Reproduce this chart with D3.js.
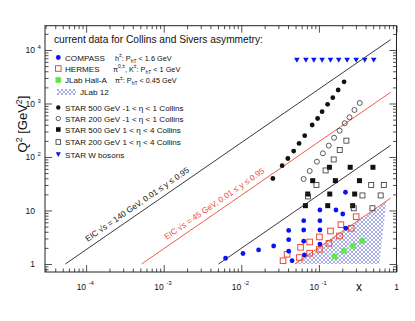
<!DOCTYPE html>
<html><head><meta charset="utf-8">
<script src="https://cdn.jsdelivr.net/npm/d3@7"></script>
<style>body{margin:0;background:#fff} svg{display:block;font-family:"Liberation Sans",Arial,Helvetica,sans-serif}</style>
</head><body><svg id="c" width="415" height="321"></svg>
<script>
// ---------------- data ----------------
const titleText = "current data for Collins and Sivers asymmetry:";
const xMajorTicks = [1e-4, 1e-3, 1e-2, 1e-1, 1];
const xTickExp = ["-4", "-3", "-2", "-1", ""];
const yMajorTicks = [1, 10, 100, 1000, 10000];
const yTickExp = ["", "", "2", "3", "4"];

const compass = [[0.00627,1.28],[0.0105,1.57],[0.0167,1.83],[0.0261,2.17],[0.0408,4.23],[0.0408,2.85],[0.0408,1.73],[0.0451,1.15],
  [0.0637,6.45],[0.0637,4.32],[0.0637,2.66],[0.065,1.47],[0.103,10.2],[0.103,6.45],[0.103,4.32],[0.103,2.35],
  [0.166,10.2],[0.203,8.6],[0.220,21.9],[0.222,4.65]];
const hermes = [[0.302,7.66],[0.192,5.43],[0.141,4.14],[0.1015,3.20],[0.076,2.58],[0.058,2.05],[0.0389,1.52],[0.0345,1.15],
  [0.056,1.32],[0.076,1.59],[0.1015,1.88],[0.1346,2.44],[0.184,3.34],[0.261,4.65]];
const jlabHallA = [[0.160,1.37],[0.210,1.75],[0.275,2.17],[0.361,2.69]];
const jlab12Region = [[0.049,1],[0.74,14.8],[0.60,1]];
const star500Mid = [[0.211,2545],[0.177,1787],[0.151,1283],[0.1295,966],[0.110,703],[0.0962,524],[0.0819,396],
  [0.0656,250],[0.0555,179],[0.0473,129],[0.0398,93.7],[0.0336,68.8],[0.0255,39.6]];
const star200Mid = [[0.336,1022],[0.287,756],[0.248,552],[0.215,427],[0.185,310],[0.157,229],[0.134,163],
  [0.1126,117],[0.0942,81.7],[0.0761,54.7],[0.0636,38.8]];
const star500Fwd = [[0.1366,64.2],[0.253,64.2],[0.497,64.2],[0.0832,36.1],[0.163,36.1],[0.333,36.1],
  [0.0717,20.3],[0.138,20.3],[0.289,20.3],[0.067,12.3],[0.130,12.3],[0.272,12.3]];
const star200Fwd = [[0.155,89.8],[0.1855,135],[0.226,202],[0.122,56],[0.0929,30],[0.472,30],[0.686,30],
  [0.364,19.1],[0.625,19.1],[0.281,11.0],[0.490,11.0],[0.0724,18.3]];
const starW = [[0.052,6464],[0.068,6464],[0.086,6464],[0.110,6464],[0.141,6464],[0.180,6464],[0.231,6464],[0.302,6464],[0.390,6464],[0.509,6464]];

const eic140Upper = [[5.4e-5,1],[0.84,15600]];
const eic140Lower = [[5.1e-3,1],[0.84,165]];
const eic45Upper = [[5.2e-4,1],[0.84,1620]];
const eic45Lower = [[0.049,1],[0.84,17]];
const eic140Label = "EIC \u221As = 140 GeV, 0.01 \u2264 y \u2264 0.95";
const eic45Label = "EIC \u221As = 45 GeV, 0.01 \u2264 y \u2264 0.95";

const legendLabels = ["COMPASS","HERMES","JLab Hall-A","JLab 12","STAR 500 GeV -1 < \u03b7 < 1 Collins",
  "STAR 200 GeV -1 < \u03b7 < 1 Collins","STAR 500 GeV 1 < \u03b7 < 4 Collins","STAR 200 GeV 1 < \u03b7 < 4 Collins","STAR W bosons"];
const legendKinematics = [
  [["h","n"],["\u00b1","sup"],[": P","n"],["hT","sub"],[" < 1.6 GeV","n"]],
  [["\u03c0","n"],["0,\u00b1","sup"],[", K","n"],["\u00b1","sup"],[": P","n"],["hT","sub"],[" < 1 GeV","n"]],
  [["\u03c0","n"],["\u00b1","sup"],[": P","n"],["hT","sub"],[" < 0.45 GeV","n"]]
];

// ---------------- drawing ----------------
const svg = d3.select("#c");
const L = 45, R = 396.5, T = 25.7, B = 272;
const x = d3.scaleLog().domain([Math.pow(10,-4.53), 1]).range([L, R]);
const y = d3.scaleLog().domain([Math.pow(10,-0.15), Math.pow(10,4.454)]).range([B, T]);

const BLUE = "#0a14f0", RED = "#ee4a36", GREEN = "#5ee84a", HATCH = "#8089d8";

const defs = svg.append("defs");
const pat = defs.append("pattern").attr("id","hatch").attr("patternUnits","userSpaceOnUse")
  .attr("width",4).attr("height",4);
pat.append("path").attr("d","M-1,1 L1,-1 M0,4 L4,0 M3,5 L5,3").attr("stroke",HATCH).attr("stroke-width",0.7);
pat.append("path").attr("d","M-1,3 L1,5 M0,0 L4,4 M3,-1 L5,1").attr("stroke",HATCH).attr("stroke-width",0.7);

// minor ticks
function minors(lo, hi) {
  const out = [];
  for (let e = Math.floor(Math.log10(lo)); e <= Math.ceil(Math.log10(hi)); e++)
    for (let m = 2; m <= 9; m++) { const v = m*Math.pow(10,e); if (v >= lo && v <= hi) out.push(v); }
  return out;
}
const xMin = minors(x.domain()[0], 1), yMin = minors(y.domain()[0], y.domain()[1]);
const axG = svg.append("g").attr("stroke-width",0.8);
function addAxis(axis, tr) {
  const g = axG.append("g").attr("transform", tr).call(axis);
  g.select(".domain").remove();
  g.selectAll("text").remove();
  g.selectAll("line").attr("stroke","#222");
}
[[xMajorTicks,7],[xMin,3.5]].forEach(([v,s]) => {
  addAxis(d3.axisBottom(x).tickValues(v).tickSize(-s), `translate(0,${B})`);
  addAxis(d3.axisTop(x).tickValues(v).tickSize(-s), `translate(0,${T})`);
});
[[yMajorTicks,7],[yMin,3.5]].forEach(([v,s]) => {
  addAxis(d3.axisLeft(y).tickValues(v).tickSize(-s), `translate(${L},0)`);
  addAxis(d3.axisRight(y).tickValues(v).tickSize(-s), `translate(${R},0)`);
});
svg.append("rect").attr("x",L).attr("y",T).attr("width",R-L).attr("height",B-T)
  .attr("fill","none").attr("stroke","#222").attr("stroke-width",1);

// tick labels
const tl = svg.append("g").attr("fill","#111").attr("font-size",8.5);
xMajorTicks.forEach((v,i) => {
  if (xTickExp[i] === "") {
    tl.append("text").attr("x",x(v)).attr("y",290).attr("text-anchor","middle").text("1");
  } else {
    tl.append("text").attr("x",x(v)).attr("y",290).attr("text-anchor","end").text("10");
    tl.append("text").attr("x",x(v)+2.5).attr("y",284.5).attr("font-size",6).text(xTickExp[i]);
  }
});
yMajorTicks.forEach((v,i) => {
  const base = v === 1 ? "1" : "10";
  tl.append("text").attr("x",35).attr("y",y(v)+3.5).attr("text-anchor","end").text(base);
  if (yTickExp[i]) tl.append("text").attr("x",37.5).attr("y",y(v)-0.5).attr("font-size",6).text(yTickExp[i]);
});

function rich(g, x0, y0, segs, size, attrs) {
  const t = g.append("text").attr("x",x0).attr("y",y0).attr("font-size",size);
  if (attrs) Object.entries(attrs).forEach(([k,v]) => t.attr(k,v));
  let shift = 0;
  segs.forEach(([s,k]) => {
    const target = k === "sup" ? -size*0.42 : k === "sub" ? size*0.28 : 0;
    const ts = t.append("tspan").attr("dy", target - shift).text(s);
    if (k !== "n") ts.attr("font-size", size*0.68);
    shift = target;
  });
  return t;
}
// axis titles
rich(svg, 0, 0, [["Q","n"],["2","sup"],[" [GeV","n"],["2","sup"],["]","n"]], 13,
  {"text-anchor":"middle","transform":"translate(27,124) rotate(-90)","fill":"#111"});
svg.append("text").attr("x",359).attr("y",291).attr("text-anchor","middle").attr("font-size",12).attr("fill","#111").text("x");

// JLab12 hatched region
const area = d3.line().x(d => x(d[0])).y(d => y(d[1]));
svg.append("path").attr("d", area(jlab12Region) + "Z").attr("fill","url(#hatch)");

// EIC lines
const lines = [[eic140Upper,"#222"],[eic140Lower,"#222"],[eic45Upper,RED],[eic45Lower,RED]];
lines.forEach(([d,c]) => svg.append("path").attr("d", area(d)).attr("fill","none").attr("stroke",c).attr("stroke-width",0.9));
function lineLabel(ln, xv, text, color) {
  const p1 = [x(ln[0][0]), y(ln[0][1])], p2 = [x(ln[1][0]), y(ln[1][1])];
  const ang = Math.atan2(p2[1]-p1[1], p2[0]-p1[0]);
  const px = x(xv), py = p1[1] + (px - p1[0]) * (p2[1]-p1[1])/(p2[0]-p1[0]);
  const off = 5.5, ox = px + off*Math.sin(ang), oy = py - off*Math.cos(ang);
  svg.append("text").attr("transform", `translate(${ox},${oy}) rotate(${ang*180/Math.PI})`)
    .attr("font-size",8.2).attr("fill",color).text(text);
}
lineLabel(eic140Upper, 1.15e-4, eic140Label, "#111");
lineLabel(eic45Upper, 1.2e-3, eic45Label, RED);

// markers
const mk = svg.append("g");
function circles(data, fill, stroke) {
  mk.selectAll(null).data(data).enter().append("circle")
    .attr("cx", d => x(d[0])).attr("cy", d => y(d[1])).attr("r", 2.4)
    .attr("fill", fill).attr("stroke", stroke || "none").attr("stroke-width", 0.8);
}
function squares(data, fill, stroke, s, sw) {
  mk.selectAll(null).data(data).enter().append("rect")
    .attr("x", d => x(d[0]) - s/2).attr("y", d => y(d[1]) - s/2).attr("width", s).attr("height", s)
    .attr("fill", fill).attr("stroke", stroke || "none").attr("stroke-width", sw || 0.8);
}
function tris(data) {
  mk.selectAll(null).data(data).enter().append("path")
    .attr("d", d => { const cx = x(d[0]), cy = y(d[1]); return `M${cx-2.8},${cy-2.3}L${cx+2.8},${cy-2.3}L${cx},${cy+2.6}Z`; })
    .attr("fill", BLUE);
}
squares(jlabHallA, GREEN, null, 5.5);
squares(hermes, "none", RED, 5.6, 1);
circles(compass, BLUE);
squares(star500Fwd, "#111", null, 5);
squares(star200Fwd, "none", "#333", 5, 0.8);
circles(star500Mid, "#111");
mk.selectAll(null).data(star200Mid).enter().append("circle")
  .attr("cx", d => x(d[0])).attr("cy", d => y(d[1])).attr("r", 2.5)
  .attr("fill","none").attr("stroke","#333").attr("stroke-width",0.8);
tris(starW);

// title
svg.append("text").attr("x",54).attr("y",43).attr("font-size",10.2).attr("fill","#111").text(titleText);

// legend
const lg = svg.append("g").attr("fill","#111");
const rowsY = [57.5, 68.5, 80, 92, 107.5, 118.5, 129.5, 142, 154.5];
const mx = 58.3;
rowsY.forEach((ry,i) => {
  const t = i === 3 ? 80 : 65;
  lg.append("text").attr("x", t).attr("y", ry + 3).attr("font-size", 8.1).text(legendLabels[i]);
  if (i < 3) rich(lg, i === 1 ? 113 : 115, ry + 3, legendKinematics[i], 7.3);
});
lg.append("circle").attr("cx",mx).attr("cy",rowsY[0]).attr("r",2.4).attr("fill",BLUE);
lg.append("rect").attr("x",mx-2.8).attr("y",rowsY[1]-2.8).attr("width",5.6).attr("height",5.6).attr("fill","none").attr("stroke",RED).attr("stroke-width",1);
lg.append("rect").attr("x",mx-2.8).attr("y",rowsY[2]-2.8).attr("width",5.6).attr("height",5.6).attr("fill",GREEN);
lg.append("rect").attr("x",57).attr("y",rowsY[3]-3).attr("width",19).attr("height",6).attr("fill","url(#hatch)");
lg.append("circle").attr("cx",mx).attr("cy",rowsY[4]).attr("r",2.2).attr("fill","#111");
lg.append("circle").attr("cx",mx).attr("cy",rowsY[5]).attr("r",2.2).attr("fill","none").attr("stroke","#333").attr("stroke-width",0.8);
lg.append("rect").attr("x",mx-2.3).attr("y",rowsY[6]-2.3).attr("width",4.6).attr("height",4.6).attr("fill","#111");
lg.append("rect").attr("x",mx-2.3).attr("y",rowsY[7]-2.3).attr("width",4.6).attr("height",4.6).attr("fill","none").attr("stroke","#333").attr("stroke-width",0.8);
lg.append("path").attr("d",`M${mx-2.5},${rowsY[8]-2.3}L${mx+2.5},${rowsY[8]-2.3}L${mx},${rowsY[8]+2.5}Z`).attr("fill",BLUE);
</script></body></html>
